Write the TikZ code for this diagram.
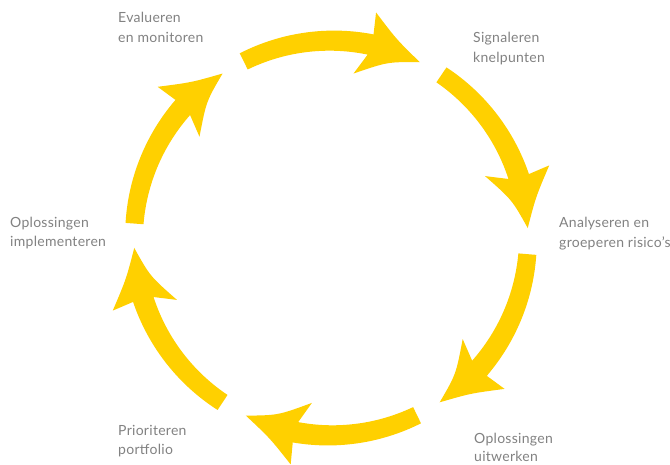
\documentclass[tikz,border=0pt]{standalone}
\usepackage{fontspec}
\setmainfont{Lato}[LetterSpace=2]
\definecolor{cycleyellow}{RGB}{255,208,0}
\definecolor{labelgray}{RGB}{130,130,130}
\tikzset{
  cyclefill/.style={fill=cycleyellow},
  steplabel/.style={anchor=base west, inner sep=0pt, text=labelgray,
    font=\fontsize{14}{20}\selectfont},
}
% One curved clockwise arrow of the cycle: tail angle #1, tip angle #2
\newcommand\cyclearrow[2]{%
  \pgfmathsetmacro\ta{#1}%
  \pgfmathsetmacro\tb{#2}%
  \pgfmathsetmacro\tn{\tb+15}%
  \pgfmathsetmacro\tm{\tb+15.5}%
  \fill[cyclefill]
    plot[domain=\ta:\tn,samples=40] (\x:{206+2*(\ta-\x)/(\ta-\tn)})
    -- (\tb+15.5:230) .. controls (\tb+8.5:209) .. (\tb:197)
    .. controls (\tb+9:185) .. (\tb+19:166)
    -- (\tb+15.5:187)
    -- plot[domain=\tm:\ta,samples=40] (\x:{188-(\ta-\x)/(\ta-\tn)})
    -- cycle;
}
\begin{document}
\begin{tikzpicture}[x=1pt,y=1pt]
  \useasboundingbox (0,0) rectangle (670,-465);
  \fill[white] (0,0) rectangle (670,-465);

  % ring of six arrows
  \begin{scope}[shift={(331,-238)}]
    \cyclearrow{116.3}{63.2}
    \cyclearrow{55.9}{2.9}
    \cyclearrow{-4.7}{-56.5}
    \cyclearrow{-64.1}{-115.6}
    \cyclearrow{-123.4}{-177.1}
    \cyclearrow{175.8}{123.4}
  \end{scope}

  % step labels
  \node[steplabel] (eval1) at (118,-23) {Evalueren};
  \node[steplabel] (eval2) at (118,-43) {en monitoren};
  \node[steplabel] (sign1) at (473,-43) {Signaleren};
  \node[steplabel] (sign2) at (473,-63) {knelpunten};
  \node[steplabel] (anal1) at (559,-228) {Analyseren en};
  \node[steplabel] (anal2) at (559,-248) {groeperen risico's};
  \node[steplabel] (uitw1) at (474,-443) {Oplossingen};
  \node[steplabel] (uitw2) at (474,-461) {uitwerken};
  \node[steplabel] (prio1) at (118,-435) {Prioriteren};
  \node[steplabel] (prio2) at (118,-454) {portfolio};
  \node[steplabel] (impl1) at (10,-228) {Oplossingen};
  \node[steplabel] (impl2) at (10,-247) {implementeren};
\end{tikzpicture}
\end{document}
